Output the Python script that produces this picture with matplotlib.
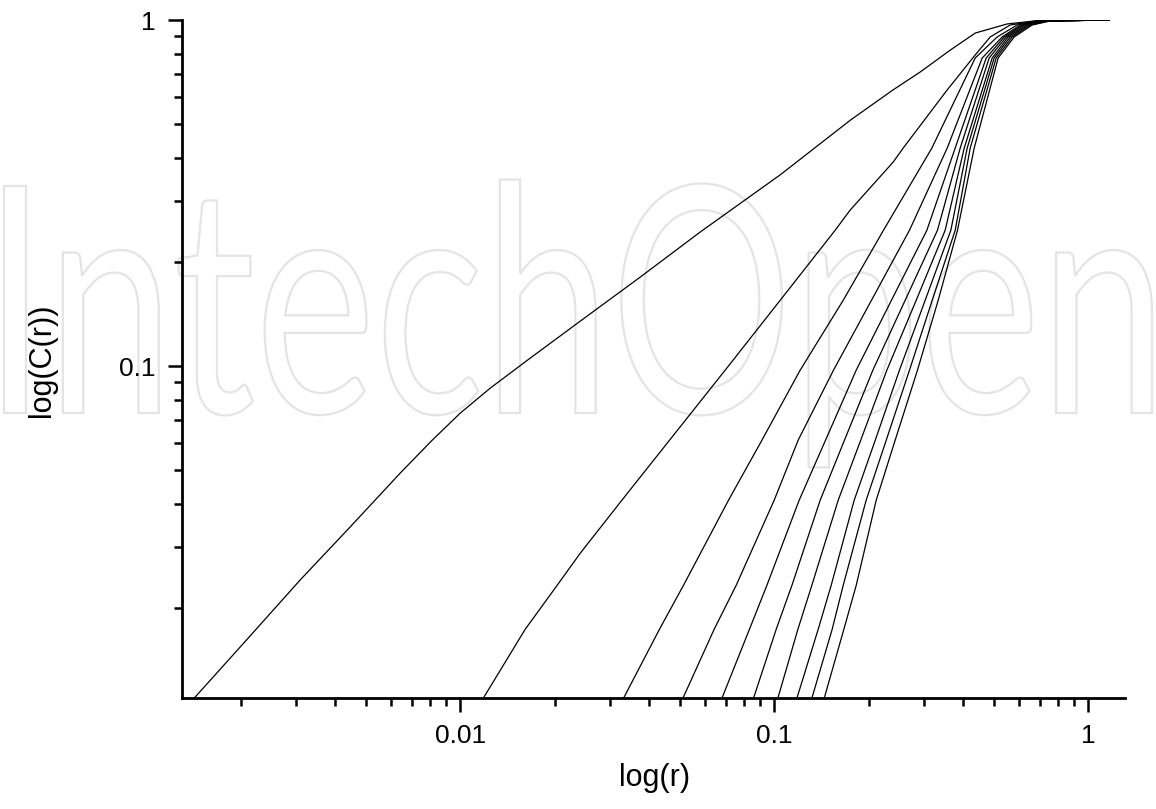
import matplotlib
matplotlib.use('Agg')
import matplotlib.pyplot as plt
from matplotlib.ticker import LogLocator, FuncFormatter, NullFormatter
from matplotlib.textpath import TextPath
from matplotlib.font_manager import FontProperties
from matplotlib.patches import PathPatch
from matplotlib.transforms import Affine2D

plt.rcParams['font.family'] = ['Liberation Sans', 'DejaVu Sans']

# correlation integral C(r) for embedding dimension m = 1..10
r_m1 = [0.00141, 0.00214, 0.00309, 0.00446, 0.00644, 0.00814, 0.0100, 0.01246, 0.01671, 0.02411,
        0.03743, 0.0581, 0.1045, 0.175, 0.239, 0.292, 0.364, 0.437, 0.552, 0.70, 1.166]
c_m1 = [0.0109, 0.0166, 0.0241, 0.0343, 0.0491, 0.0611, 0.07315, 0.08638, 0.1055, 0.1349,
        0.1808, 0.244, 0.357, 0.514, 0.628, 0.708, 0.819, 0.917, 0.974, 0.997, 1.0]

r_m2 = [0.01184, 0.01611, 0.02036, 0.02411, 0.03273, 0.04641, 0.06982, 0.1045, 0.1564, 0.1746,
        0.2393, 0.2575, 0.3556, 0.4365, 0.4875, 0.5644, 0.6881, 1.166]
c_m2 = [0.01098, 0.01738, 0.02328, 0.02881, 0.0410, 0.0611, 0.0974, 0.155, 0.247, 0.2825,
        0.3886, 0.4266, 0.628, 0.792, 0.8932, 0.9673, 0.9953, 1.0]

# m = 3..10 share the same C(r) levels
c_levels = [0.01098, 0.01738, 0.02328, 0.0410, 0.0611, 0.0974, 0.155, 0.247, 0.4266,
            0.7766, 0.8932, 0.9673, 0.9934, 1.0]
r_m3 = [0.03312, 0.04312, 0.05142, 0.07153, 0.09138, 0.1210, 0.1659, 0.2229, 0.3178, 0.4367, 0.5130, 0.5940, 0.6880, 1.166]
r_m4 = [0.05119, 0.0644, 0.07568, 0.1, 0.1192, 0.1545, 0.2041, 0.2697, 0.3556, 0.4597, 0.5322, 0.6073, 0.6930, 1.166]
r_m5 = [0.06815, 0.08342, 0.0948, 0.1201, 0.1457, 0.1825, 0.2363, 0.3064, 0.3771, 0.4733, 0.5401, 0.6163, 0.7033, 1.166]
r_m6 = [0.08592, 0.1015, 0.1139, 0.1401, 0.1674, 0.2062, 0.2613, 0.3312, 0.3912, 0.4838, 0.5482, 0.6255, 0.7137, 1.166]
r_m7 = [0.1027, 0.1190, 0.1318, 0.1599, 0.1886, 0.2285, 0.2833, 0.3504, 0.4029, 0.4946, 0.5562, 0.6346, 0.7243, 1.166]
r_m8 = [0.1181, 0.1381, 0.1519, 0.1798, 0.2098, 0.2506, 0.3026, 0.3653, 0.4118, 0.5018, 0.5644, 0.6440, 0.7349, 1.166]
r_m9 = [0.1318, 0.1530, 0.1659, 0.1963, 0.2274, 0.2697, 0.3186, 0.3771, 0.4210, 0.5093, 0.5728, 0.6535, 0.7458, 1.166]
r_m10 = [0.1443, 0.1667, 0.1825, 0.2113, 0.2428, 0.2860, 0.3329, 0.3835, 0.4335, 0.5168, 0.5812, 0.6632, 0.7568, 1.166]

x_ticks = [0.01, 0.1, 1]
y_ticks = [0.1, 1]

W, H = 1156, 809
fig = plt.figure(figsize=(W / 100, H / 100), dpi=100)
ax = fig.add_axes([182 / W, 111 / H, 943 / W, 678 / H])
ax.patch.set_visible(False)

# faint outlined watermark behind the plot
tp = TextPath((0, 0), "IntechOpen", size=1, prop=FontProperties(family='Lato'))
cap = TextPath((0, 0), "I", size=1, prop=FontProperties(family='Lato')).get_extents().height
ext = tp.get_extents()
sx = 1148 / ext.width
sy = 227 / cap
tr = Affine2D().translate(-ext.x0, 0).scale(sx, sy).translate(4, H - 413).scale(1 / W, 1 / H)
wm = PathPatch(tr.transform_path(tp), facecolor='none', edgecolor='#e4e4e4', lw=1.6,
               transform=fig.transFigure, zorder=-1)
fig.add_artist(wm)

ax.plot(r_m1, c_m1, color='black', lw=0.9)
ax.plot(r_m2, c_m2, color='black', lw=0.9)
for r in [r_m3, r_m4, r_m5, r_m6, r_m7, r_m8, r_m9, r_m10]:
    ax.plot(r, c_levels, color='black', lw=0.9)

ax.set_xscale('log')
ax.set_yscale('log')
ax.set_xlim(0.0013, 1.31)
ax.set_ylim(0.011, 1.0)

ax.set_xticks(x_ticks)
ax.set_yticks(y_ticks)
fmt = FuncFormatter(lambda v, p: '{:g}'.format(v))
ax.xaxis.set_major_formatter(fmt)
ax.yaxis.set_major_formatter(fmt)
ax.xaxis.set_minor_locator(LogLocator(base=10, subs=range(2, 10)))
ax.yaxis.set_minor_locator(LogLocator(base=10, subs=range(2, 10)))
ax.xaxis.set_minor_formatter(NullFormatter())
ax.yaxis.set_minor_formatter(NullFormatter())

for s in ['top', 'right']:
    ax.spines[s].set_visible(False)
for s in ['left', 'bottom']:
    ax.spines[s].set_linewidth(2.0)

ax.tick_params(which='major', direction='out', length=10, width=1.8, labelsize=19, pad=9)
ax.tick_params(which='minor', direction='out', length=5.5, width=1.8)

ax.set_xlabel('log(r)', fontsize=22)
ax.set_ylabel('log(C(r))', fontsize=22)
ax.xaxis.set_label_coords((655 - 182) / 943, (698 - 778) / 678)
ax.xaxis.label.set_va('center')
ax.yaxis.set_label_coords((42 - 182) / 943, (698 - 360) / 678)
ax.yaxis.label.set_va('center')

plt.savefig('out.png', dpi=100)
